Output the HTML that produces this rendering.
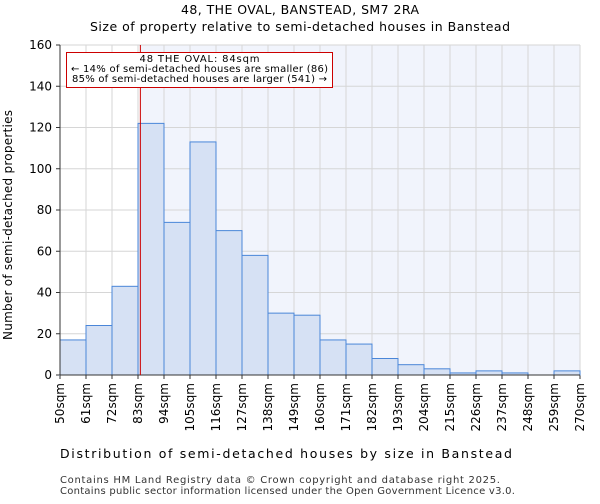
<!DOCTYPE html>
<html><head><meta charset="utf-8"><style>
body{margin:0;background:#fff;font-family:"DejaVu Sans","Liberation Sans",sans-serif;}
</style></head><body>
<svg id="c" width="600" height="500" xmlns="http://www.w3.org/2000/svg" style="font-family:'DejaVu Sans','Liberation Sans',sans-serif">
<text x="300" y="14" text-anchor="middle" font-size="12.5" textLength="238" lengthAdjust="spacing">48, THE OVAL, BANSTEAD, SM7 2RA</text>
<text x="300" y="31" text-anchor="middle" font-size="12.5" textLength="420" lengthAdjust="spacing">Size of property relative to semi-detached houses in Banstead</text>
<g id="plot"></g>
<text x="286" y="458" text-anchor="middle" font-size="12.5" textLength="452" lengthAdjust="spacing">Distribution of semi-detached houses by size in Banstead</text>
<text transform="translate(12,225) rotate(-90)" text-anchor="middle" font-size="12" textLength="230" lengthAdjust="spacing">Number of semi-detached properties</text>
<text x="60" y="483" font-size="10" fill="#333" textLength="440" lengthAdjust="spacing">Contains HM Land Registry data © Crown copyright and database right 2025.</text>
<text x="60" y="494" font-size="10" fill="#333" textLength="455" lengthAdjust="spacing">Contains public sector information licensed under the Open Government Licence v3.0.</text>
</svg>
<script>
const binStarts=[50,61,72,83,94,105,116,127,138,149,160,171,182,193,204,215,226,237,248,259];
const counts=[17,24,43,122,74,113,70,58,30,29,17,15,8,5,3,1,2,1,0,2];
const xTickLabels=["50sqm","61sqm","72sqm","83sqm","94sqm","105sqm","116sqm","127sqm","138sqm","149sqm","160sqm","171sqm","182sqm","193sqm","204sqm","215sqm","226sqm","237sqm","248sqm","259sqm","270sqm"];
const yTicks=[0,20,40,60,80,100,120,140,160];
const propertySize=84;
const binWidth=11;
const NS="http://www.w3.org/2000/svg";
const L=60,R=580,T=45,B=375,xMin=50,xMax=270,yMax=160;
const xs=v=>L+(v-xMin)/(xMax-xMin)*(R-L);
const ys=v=>B-v/yMax*(B-T);
const g=document.getElementById('plot');
function mk(t,a){const e=document.createElementNS(NS,t);for(const k in a)e.setAttribute(k,a[k]);g.appendChild(e);return e;}
let e;
e=mk('rect',{x:L,y:T,width:xs(propertySize)-L,height:B-T,fill:'#fff'});


e=mk('rect',{x:xs(propertySize),y:T,width:R-xs(propertySize),height:B-T,fill:'#f1f4fc'});


yTicks.forEach(v=>{
 e=mk('line',{x1:L,x2:R,y1:ys(v),y2:ys(v),stroke:'#d6d6d6','stroke-width':1});
 
 
 e=mk('line',{x1:L-4,x2:L,y1:ys(v),y2:ys(v),stroke:'#333'});
 
 
 e=mk('text',{x:L-8,y:ys(v)+4,'text-anchor':'end','font-size':12});
 e.textContent=v;
 
 
});
xTickLabels.forEach((lab,i)=>{
 const x=xs(xMin+i*binWidth);
 e=mk('line',{x1:x,x2:x,y1:T,y2:B,stroke:'#d6d6d6'});
 
 
 e=mk('line',{x1:x,x2:x,y1:B,y2:B+4,stroke:'#333'});
 
 
 e=mk('text',{transform:`translate(${x+4},${B+8}) rotate(-90)`,'text-anchor':'end','font-size':12});
 e.textContent=lab;
 
 
});
counts.forEach((c,i)=>{
 const x0=xs(binStarts[i]),x1=xs(binStarts[i]+binWidth);
 e=mk('rect',{x:x0,y:ys(c),width:x1-x0,height:B-ys(c),fill:'#d6e1f4',stroke:'#4a86d8','stroke-width':1});
 
 
});
e=mk('line',{x1:L,x2:L,y1:T,y2:B,stroke:'#333'});


e=mk('line',{x1:L,x2:R,y1:B,y2:B,stroke:'#333'});


e=mk('line',{x1:xs(propertySize),x2:xs(propertySize),y1:T,y2:B,stroke:'#cc0000','stroke-width':1});


e=mk('rect',{x:66.5,y:52.5,width:266,height:35,fill:'#fff',stroke:'#cc0000','stroke-width':1});


[["48 THE OVAL: 84sqm",62,120],["← 14% of semi-detached houses are smaller (86)",72,257],["85% of semi-detached houses are larger (541) →",82,255]].forEach(([t,y,w])=>{
 e=mk('text',{x:199.5,y:y,'text-anchor':'middle','font-size':10,textLength:w,lengthAdjust:'spacing'});
 e.textContent=t;
 
 
});
</script>
</body></html>
